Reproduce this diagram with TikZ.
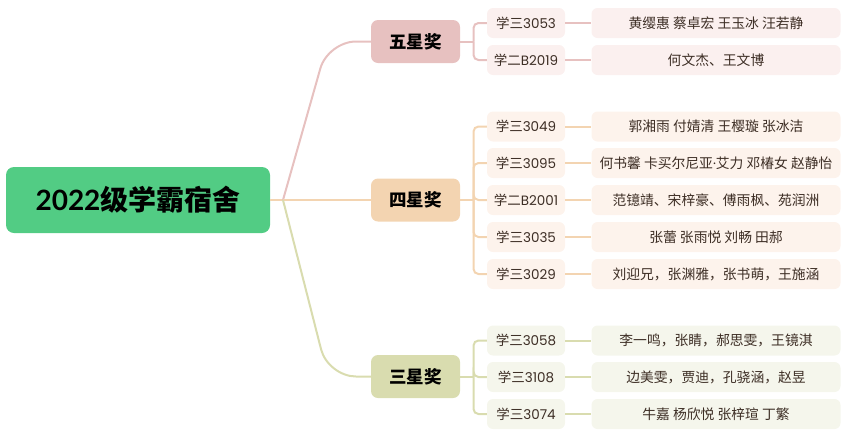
\documentclass[tikz,border=0pt]{standalone}
\usepackage{fontspec}
\setmainfont{Noto Sans CJK SC}
\newfontfamily\lat{Poppins}
\newfontfamily\latb{Lato}
\definecolor{rootc}{HTML}{52CC84}
\definecolor{pinkc}{HTML}{E7C1C0}
\definecolor{orangec}{HTML}{F3D4B1}
\definecolor{greenc}{HTML}{D9DCAF}
\definecolor{pinkl}{HTML}{FBF0EF}
\definecolor{orangel}{HTML}{FDF3EC}
\definecolor{greenl}{HTML}{F5F6EC}
\definecolor{txtc}{HTML}{3D2E25}
\newcommand{\rid}[2]{#1{\lat #2}}
\begin{document}
\begin{tikzpicture}[x=1pt,y=-1pt,
  rootbox/.style={fill=rootc,rounded corners=8pt,minimum width=264pt,minimum height=66pt,inner sep=0pt,font=\fontsize{28}{30}\selectfont\bfseries},
  lvlbox/.style={rounded corners=7pt,minimum width=89pt,minimum height=43pt,inner sep=0pt,font=\fontsize{17.5}{19}\selectfont\bfseries},
  idbox/.style={rounded corners=6pt,minimum width=78pt,minimum height=30pt,inner sep=0pt,text=txtc,font=\fontsize{13.5}{15}\selectfont},
  namebox/.style={rounded corners=6pt,minimum width=249pt,minimum height=30pt,inner sep=0pt,text=txtc,font=\fontsize{13.8}{15}\selectfont},
  link/.style={line width=2pt},
  brk/.style={line width=2pt,rounded corners=5pt}]
\useasboundingbox (0,0) rectangle (853,440);
% root
\node[rootbox] (root) at (138,200) {{\latb\bfseries 2022}级学霸宿舍};
\coordinate (j) at (283,200);
% level nodes
\node[lvlbox,fill=pinkc] (l5) at (415.5,41.5) {五星奖};
\node[lvlbox,fill=orangec] (l4) at (415.5,200) {四星奖};
\node[lvlbox,fill=greenc] (l3) at (415.5,376.5) {三星奖};
\coordinate (c5) at (328,41.5);
\coordinate (c3) at (328,376.5);
\coordinate (h5) at (473.5,41.5);
\coordinate (h4) at (473.5,200);
\coordinate (h3) at (473.5,376.5);
\draw[link,orangec] (root.east) -- (j);
\draw[link,pinkc,rounded corners=28pt] (j) -- (c5) -- (l5.west);
\draw[link,orangec] (j) -- (l4.west);
\draw[link,greenc,rounded corners=28pt] (j) -- (c3) -- (l3.west);
% five star children
\node[idbox,fill=pinkl] (a1) at (526,23) {\rid{学三}{3053}};
\node[idbox,fill=pinkl] (a2) at (526,60) {\rid{学二}{B2019}};
\node[namebox,fill=pinkl] (n1) at (716,23) {黄缨惠 蔡卓宏 王玉冰 汪若静};
\node[namebox,fill=pinkl] (n2) at (716,60) {何文杰、王文博};
% four star children
\node[idbox,fill=orangel] (b1) at (526,126.5) {\rid{学三}{3049}};
\node[idbox,fill=orangel] (b2) at (526,163) {\rid{学三}{3095}};
\node[idbox,fill=orangel] (b3) at (526,200) {\rid{学二}{B2001}};
\node[idbox,fill=orangel] (b4) at (526,237) {\rid{学三}{3035}};
\node[idbox,fill=orangel] (b5) at (526,274) {\rid{学三}{3029}};
\node[namebox,fill=orangel] (m1) at (716,126.5) {郭湘雨 付婧清 王樱璇 张冰洁};
\node[namebox,fill=orangel] (m2) at (716,163) {何书馨 卡买尔尼亚{\lat ·}艾力 邓椿女 赵静怡};
\node[namebox,fill=orangel] (m3) at (716,200) {范镱靖、宋梓豪、傅雨枫、苑润洲};
\node[namebox,fill=orangel] (m4) at (716,237) {张蕾 张雨悦 刘畅 田郝};
\node[namebox,fill=orangel] (m5) at (716,274) {刘迎兄，张渊雅，张书萌，王施涵};
% three star children
\node[idbox,fill=greenl] (d1) at (526,340.5) {\rid{学三}{3058}};
\node[idbox,fill=greenl] (d2) at (526,377) {\rid{学三}{3108}};
\node[idbox,fill=greenl] (d3) at (526,414) {\rid{学三}{3074}};
\node[namebox,fill=greenl] (k1) at (716,340.5) {李一鸣，张睛，郝思雯，王镜淇};
\node[namebox,fill=greenl] (k2) at (716,377) {边美雯，贾迪，孔骁涵，赵昱};
\node[namebox,fill=greenl] (k3) at (716,414) {牛嘉 杨欣悦 张梓瑄 丁繁};
% brackets
\draw[link,pinkc] (l5.east) -- (h5);
\draw[link,orangec] (l4.east) -- (h4);
\draw[link,greenc] (l3.east) -- (h3);
\foreach \c in {a1,a2}{\draw[brk,pinkc] (h5) |- (\c.west);}
\foreach \c in {b1,b2,b3,b4,b5}{\draw[brk,orangec] (h4) |- (\c.west);}
\foreach \c in {d1,d2,d3}{\draw[brk,greenc] (h3) |- (\c.west);}
% id to names
\draw[link,pinkc] (a1.east) -- (n1.west);
\draw[link,pinkc] (a2.east) -- (n2.west);
\draw[link,orangec] (b1.east) -- (m1.west);
\draw[link,orangec] (b2.east) -- (m2.west);
\draw[link,orangec] (b3.east) -- (m3.west);
\draw[link,orangec] (b4.east) -- (m4.west);
\draw[link,orangec] (b5.east) -- (m5.west);
\draw[link,greenc] (d1.east) -- (k1.west);
\draw[link,greenc] (d2.east) -- (k2.west);
\draw[link,greenc] (d3.east) -- (k3.west);
\end{tikzpicture}
\end{document}
